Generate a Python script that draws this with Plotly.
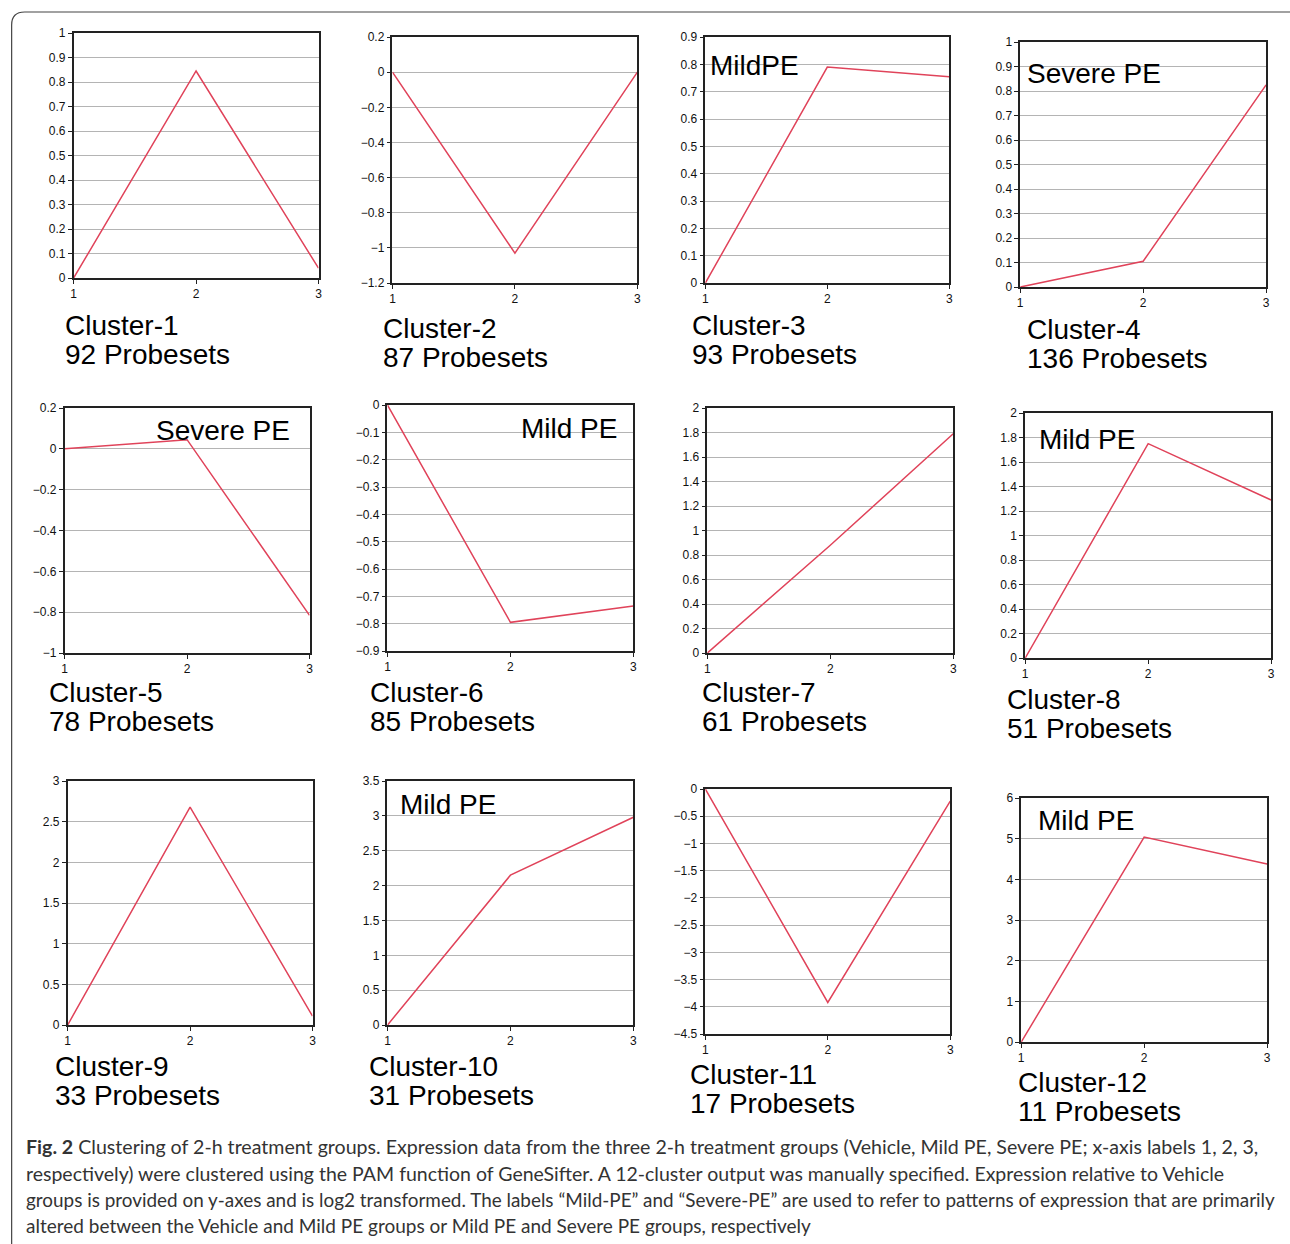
import plotly.graph_objects as go

W, H = 1290, 1244

# ---------------- data ----------------
x_groups = [1, 2, 3]
cluster_names = ["Cluster-1", "Cluster-2", "Cluster-3", "Cluster-4",
                 "Cluster-5", "Cluster-6", "Cluster-7", "Cluster-8",
                 "Cluster-9", "Cluster-10", "Cluster-11", "Cluster-12"]
probesets = [92, 87, 93, 136, 78, 85, 61, 51, 33, 31, 17, 11]
c1 = [0, 0.845, 0.04]
c2 = [0, -1.03, 0.0]
c3 = [0, 0.79, 0.755]
c4 = [0, 0.105, 0.825]
c5 = [0, 0.045, -0.815]
c6 = [0, -0.795, -0.735]
c7 = [0, 0.88, 1.79]
c8 = [0, 1.75, 1.29]
c9 = [0, 2.68, 0.11]
c10 = [0, 2.15, 2.98]
c11 = [0, -3.92, -0.22]
c12 = [0, 5.04, 4.38]
series = [c1, c2, c3, c4, c5, c6, c7, c8, c9, c10, c11, c12]
y_ranges = [(0, 1), (-1.2, 0.2), (0, 0.9), (0, 1),
            (-1, 0.2), (-0.9, 0), (0, 2), (0, 2),
            (0, 3), (0, 3.5), (-4.5, 0), (0, 6)]
y_dticks = [0.1, 0.2, 0.1, 0.1, 0.2, 0.1, 0.2, 0.2, 0.5, 0.5, 0.5, 1]
pattern_labels = ["", "", "MildPE", "Severe PE", "Severe PE", "Mild PE",
                  "", "Mild PE", "", "Mild PE", "", "Mild PE"]
caption_lines = [
    "<b>Fig. 2</b> Clustering of 2-h treatment groups. Expression data from the three 2-h treatment groups (Vehicle, Mild PE, Severe PE; x-axis labels 1, 2, 3,",
    "respectively) were clustered using the PAM function of GeneSifter. A 12-cluster output was manually specified. Expression relative to Vehicle",
    "groups is provided on y-axes and is log2 transformed. The labels \u201cMild-PE\u201d and \u201cSevere-PE\u201d are used to refer to patterns of expression that are primarily",
    "altered between the Vehicle and Mild PE groups or Mild PE and Severe PE groups, respectively",
]
caption_sizes = [19.6, 19.5, 18.9, 19]

# ---------------- layout (pixel boxes, as seen in the reference) ----------------
boxes = [  # left, right, top, bottom in px
    (73, 318, 32, 277), (392, 637, 36, 282), (705, 949, 36, 282), (1020, 1266, 41, 286),
    (64, 309, 407, 652), (387, 633, 404, 650), (707, 953, 407, 652), (1025, 1271, 412, 657),
    (67, 312, 780, 1024), (387, 633, 780, 1024), (705, 950, 788, 1033), (1021, 1267, 797, 1041),
]
name_pos = [  # x, y of first line center
    (62, 324), (381, 327), (690, 324), (1025, 328),
    (46, 691), (368, 691), (700, 691), (1005, 698),
    (52, 1065), (367, 1065), (688, 1073), (1016, 1081),
]
label_pos = [None, None, (708, 64), (1025, 72), (153, 429), (519, 427),
             None, (1037, 438), None, (398, 803), None, (1036, 819)]

# small calibration of pixel -> paper mapping
SX, CX = 0.995, 470
SY, CY = 0.9887, 530


def px(x):
    return (CX + (x - CX) / SX) / W


def py(y):
    return 1 - (CY + (y - CY) / SY) / H


fig = go.Figure()
LINE_RED = "#e0435a"
TXT = "Liberation Sans, Arial, sans-serif"

layout = dict(width=W, height=H, margin=dict(l=0, r=0, t=0, b=0),
              paper_bgcolor="white", plot_bgcolor="white", showlegend=False)
annotations = []

for i in range(12):
    k = "" if i == 0 else str(i + 1)
    l, r, t, b = boxes[i]
    fig.add_trace(go.Scatter(x=x_groups, y=series[i], mode="lines",
                             line=dict(color=LINE_RED, width=1.5),
                             xaxis="x" + k, yaxis="y" + k, hoverinfo="skip"))
    layout["xaxis" + k] = dict(domain=[px(l), px(r)], anchor="y" + k, range=[1, 3],
                               tickvals=x_groups, ticks="outside", ticklen=4, tickwidth=1,
                               tickcolor="#222", showgrid=False, zeroline=False,
                               showline=True, mirror=True, linecolor="#222", linewidth=1.5,
                               tickfont=dict(family=TXT, size=12, color="#111"), fixedrange=True)
    y0, y1 = y_ranges[i]
    layout["yaxis" + k] = dict(domain=[py(b), py(t)], anchor="x" + k, range=[y0, y1],
                               dtick=y_dticks[i], tick0=0, ticks="outside", ticklen=4, tickwidth=1,
                               tickcolor="#222", showgrid=True, gridcolor="#b4b4b4", gridwidth=1.2,
                               zeroline=False, showline=True, mirror=True, linecolor="#222",
                               linewidth=1.5, tickfont=dict(family=TXT, size=12, color="#111"),
                               fixedrange=True)
    nx, ny = name_pos[i]
    annotations.append(dict(x=px(nx), y=py(ny), xref="paper", yref="paper",
                            xanchor="left", yanchor="middle", showarrow=False,
                            text=cluster_names[i], font=dict(family=TXT, size=28, color="black")))
    annotations.append(dict(x=px(nx), y=py(ny + 29), xref="paper", yref="paper",
                            xanchor="left", yanchor="middle", showarrow=False,
                            text=f"{probesets[i]} Probesets",
                            font=dict(family=TXT, size=28, color="black")))
    if pattern_labels[i]:
        lx, ly = label_pos[i]
        annotations.append(dict(x=px(lx), y=py(ly), xref="paper", yref="paper",
                                xanchor="left", yanchor="middle", showarrow=False,
                                text=pattern_labels[i],
                                font=dict(family=TXT, size=28, color="black")))

cap_y = [1145, 1172, 1198, 1224]
for line, yy, fs in zip(caption_lines, cap_y, caption_sizes):
    annotations.append(dict(x=px(23), y=py(yy), xref="paper", yref="paper",
                            xanchor="left", yanchor="middle", showarrow=False,
                            text=line,
                            font=dict(family="Lato, sans-serif", size=fs, color="#333")))

layout["annotations"] = annotations
layout["shapes"] = [dict(type="path", xref="paper", yref="paper",
                         path=(f"M {px(1295)},{py(11)} L {px(24)},{py(11)} "
                               f"Q {px(11)},{py(11)} {px(11)},{py(24)} "
                               f"L {px(11)},{py(1250)}"),
                         line=dict(color="#444", width=1.2))]
fig.update_layout(**layout)
fig.write_html("out.html", config={"displayModeBar": False},
               post_script="document.body.style.margin='0';document.body.style.overflow='hidden';")
